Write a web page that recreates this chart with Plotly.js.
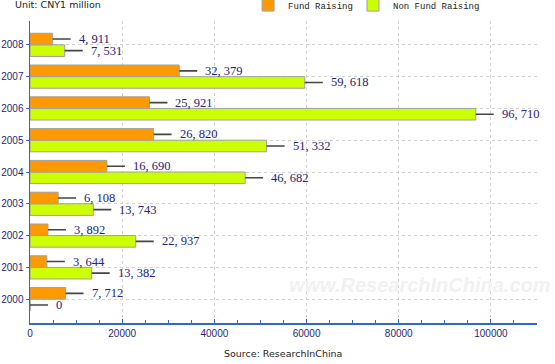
<!DOCTYPE html>
<html>
<head>
<meta charset="utf-8">
<script src="https://cdn.plot.ly/plotly-3.0.1.min.js"></script>
<style>html,body{margin:0;padding:0;background:#fff;}#chart{width:555px;height:364px;}</style>
</head>
<body>
<div id="chart"></div>
<script>
var years = ["2000","2001","2002","2003","2004","2005","2006","2007","2008"];
var fundRaising = [7712, 3644, 3892, 6108, 16690, 26820, 25921, 32379, 4911];
var nonFundRaising = [0, 13382, 22937, 13743, 46682, 51332, 96710, 59618, 7531];
var xTickVals = [0, 20000, 40000, 60000, 80000, 100000];

function fmt(v){ return v.toLocaleString('en-US').replace(/,/g, ', '); }

var barLine = {color:'#a0a0a0', width:1};
var traces = [
  {type:'bar', orientation:'h', name:'Non Fund Raising', y:years, x:nonFundRaising,
   marker:{color:'#CCFF00', line:barLine}, hoverinfo:'none', legend:'legend2'},
  {type:'bar', orientation:'h', name:'Fund Raising', y:years, x:fundRaising,
   marker:{color:'#FF9900', line:barLine}, hoverinfo:'none', legend:'legend'}
];

var annotations = [];
function addLabels(vals, shift){
  for (var i=0;i<years.length;i++){
    annotations.push({x:vals[i], y:i, xref:'x', yref:'y', yshift:shift,
      text:fmt(vals[i]), showarrow:true, arrowhead:0, arrowwidth:1.6, arrowcolor:'#444',
      ax:24, ay:0, xanchor:'left', standoff:0, startstandoff:6,
      font:{family:'Liberation Serif, serif', size:12.5, color:'#22227a'}});
  }
}
addLabels(fundRaising, 5.8);
addLabels(nonFundRaising, -5.8);

annotations.push({xref:'paper', yref:'paper', x:0.77, y:0.126, xanchor:'center', yanchor:'middle',
  text:'<i><b>www.ResearchInChina.com</b></i>', showarrow:false,
  font:{family:'Arial, sans-serif', size:20, color:'#f1f1f1'}});
annotations.push({xref:'paper', yref:'paper', x:-0.034, y:1.053, xanchor:'left', yanchor:'middle',
  text:'Unit: CNY1 million', showarrow:false,
  font:{family:'DejaVu Sans, sans-serif', size:9.5, color:'#222'}});
annotations.push({xref:'paper', yref:'paper', x:0.379, y:-0.10, xanchor:'left', yanchor:'middle',
  text:'Source: ResearchInChina', showarrow:false,
  font:{family:'DejaVu Sans, sans-serif', size:9.5, color:'#222'}});

var legendFont = {family:'Liberation Mono, monospace', size:9, color:'#222'};
var layout = {
  width:555, height:364,
  margin:{l:30, r:18, t:21, b:41},
  paper_bgcolor:'#fff', plot_bgcolor:'#fff',
  barmode:'group', bargap:0.27, bargroupgap:0,
  showlegend:true,
  legend:{orientation:'h', xref:'container', yref:'container',
    x:0.447, y:0.986, xanchor:'left', yanchor:'middle', itemwidth:30, font:legendFont},
  legend2:{orientation:'h', xref:'container', yref:'container',
    x:0.636, y:0.986, xanchor:'left', yanchor:'middle', itemwidth:30, font:legendFont},
  xaxis:{range:[0,110000], tickvals:xTickVals, ticktext:xTickVals.map(String),
    showgrid:true, gridcolor:'#d0d0d0', griddash:'dot', gridwidth:1,
    showline:true, linecolor:'#3366cc', linewidth:1.5, zeroline:false,
    ticks:'inside', ticklen:4, tickcolor:'#3366cc',
    minor:{dtick:5000, ticks:'inside', ticklen:3, tickcolor:'#3366cc', showgrid:false},
    tickfont:{family:'Liberation Sans, Arial, sans-serif', size:10, color:'#1f1f7a'}},
  yaxis:{type:'category', categoryarray:years, range:[-0.75, 8.75],
    showgrid:true, gridcolor:'#d0d0d0', griddash:'dot', gridwidth:1,
    showline:true, linecolor:'#3366cc', linewidth:1.5, zeroline:false,
    ticks:'outside', ticklen:3, tickcolor:'#3366cc',
    tickfont:{family:'Liberation Sans, Arial, sans-serif', size:10, color:'#1f1f7a'}},
  annotations:annotations
};

Plotly.newPlot('chart', traces, layout, {displayModeBar:false, staticPlot:true});
</script>
</body>
</html>
